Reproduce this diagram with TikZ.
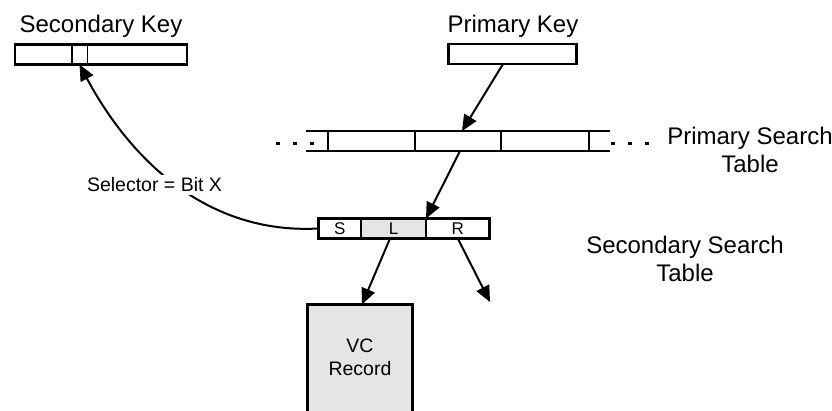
\documentclass[tikz,border=0pt]{standalone}
\usepackage{fontspec}
\setmainfont{Liberation Sans}
\usetikzlibrary{arrows.meta}
\definecolor{cellgray}{RGB}{229,229,229}

\begin{document}
\begin{tikzpicture}[x=1pt,y=-1pt]
\tikzset{ >={Triangle[length=16pt,width=14pt]}, inner sep=0pt, outer sep=0pt,
  box/.style={draw, line width=2.8pt, minimum height=20pt},
  big/.style={font=\fontsize{24}{28}\selectfont, align=center},
  small/.style={font=\fontsize{19.5}{23}\selectfont, align=center},
  tiny/.style={font=\fontsize{17}{18}\selectfont},
  link/.style={->, line width=2pt} }
\clip (0,0) rectangle (832,411);
%\draw [lightgray, dashed](0,0) grid[step=20] (832,411);

% keys
\node [big, anchor=base] (SKL) at (101,33) {Secondary Key};
\node [box, minimum width=172pt] (SK) at (101,54.5) {};
\node [minimum width=15pt, minimum height=20pt] (SKB) at (79.5,54.5) {};
\draw [line width=2.8pt] (SKB.north west) -- (SKB.south west);
\draw [line width=1pt] (SKB.north east) -- (SKB.south east);

\node [big, anchor=base] (PKL) at (513,33) {Primary Key};
\node [box, minimum width=128pt] (PK) at (512.5,54) {};

% primary search table
\node [box, minimum width=87pt] (PT1) at (371.5,141) {};
\node [box, minimum width=86pt] (PT2) at (458,141) {};
\node [box, minimum width=88pt] (PT3) at (545,141) {};
\draw [line width=2.8pt] (PT1.north west) -- ++(-22,0);
\draw [line width=2.8pt] (PT1.south west) -- ++(-22,0);
\draw [line width=2.8pt] (PT3.north east) -- ++(21,0);
\draw [line width=2.8pt] (PT3.south east) -- ++(21,0);
\foreach \x in {278,295,312,613,630,647}
  \fill (\x-1.8,141.8) rectangle ++(3.6,3.6);
\node [big, anchor=base] (PTL) at (750,173) {Primary Search\\Table};

% secondary search table
\node [box, minimum width=42.6pt, tiny] (SS) at (339.7,228.5) {S};
\node [box, minimum width=65pt, fill=cellgray, tiny] (SL) at (393.5,228.5) {L};
\node [box, minimum width=63.6pt, tiny] (SR) at (457.8,228.5) {R};
\node [big, anchor=base] (STL) at (685,282) {Secondary Search\\Table};

% record
\node [box, minimum width=105pt, minimum height=116pt, fill=cellgray] (VC) at (360,362.4) {};
\node [small, anchor=base] (VCL) at (360,375) {VC\\Record};

\coordinate (RE) at (490,302);

\draw [link] ([xshift=-9.5pt]PK.south) -- ([xshift=4pt]PT2.north);
\draw [link] ([xshift=2pt]PT2.south) -- (SL.north east);
\draw [link] ([xshift=-3.5pt]SL.south) -- ([xshift=2pt]VC.north);
\draw [link] (SR.south) -- (RE);
\draw [link] (SS.west) .. controls (200,235) and (125,150) .. (SKB.south);

\node [small, anchor=base, fill=white, inner sep=3pt] (SEL) at (154.5,192) {Selector = Bit X};

\end{tikzpicture}
\end{document}
